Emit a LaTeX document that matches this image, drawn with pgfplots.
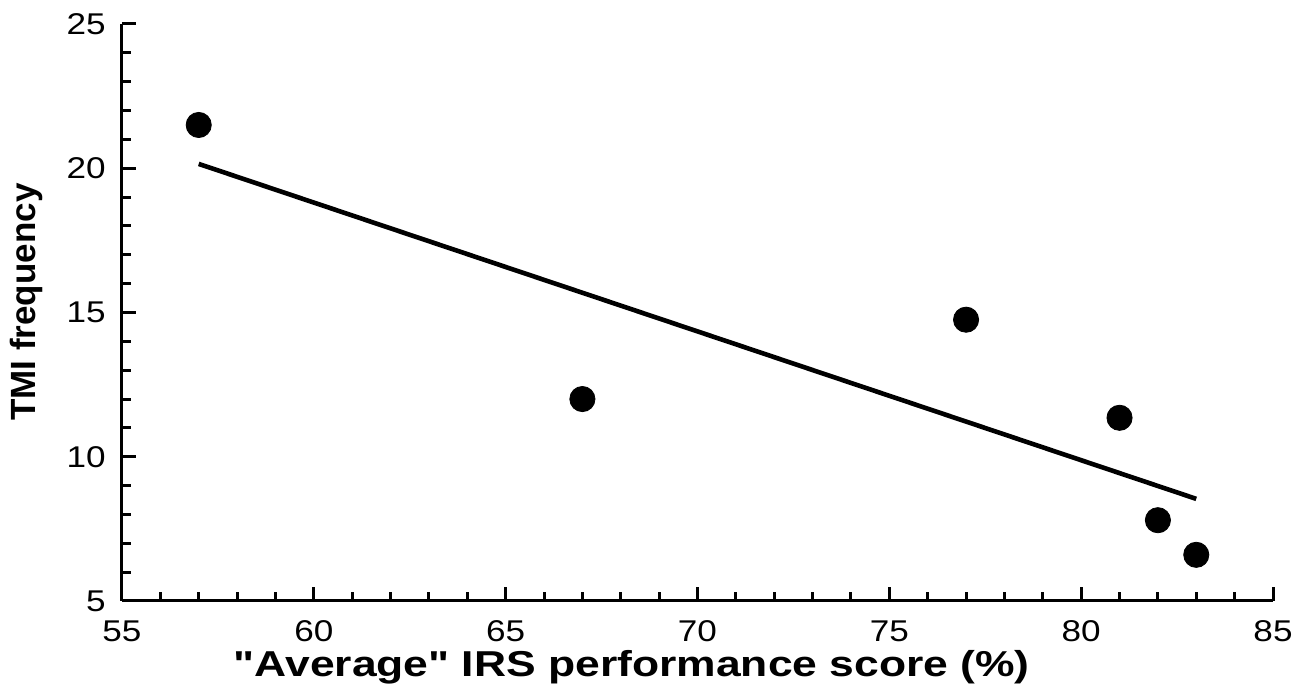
\documentclass[border=0pt]{standalone}
\usepackage{graphicx}
\usepackage{pgfplots}
\pgfplotsset{compat=1.18}
\usepackage{fontspec}
\setmainfont{Liberation Sans}
\newfontfamily\qfont{Liberation Sans}
\begin{document}
\begin{tikzpicture}
\begin{axis}[
  name=a,
  width=575.5pt, height=288.5pt, scale only axis,
  xmin=55, xmax=85, ymin=5, ymax=25,
  axis x line=bottom, axis y line=left,
  axis line style={-, line width=1.5pt},
  every tick/.style={black, line width=1.5pt},
  tick align=inside,
  major tick length=7pt, minor tick length=4.5pt,
  xtick={55,60,...,85}, ytick={5,10,...,25},
  minor tick num=4,
  /pgf/number format/assume math mode=true,
  tick label style={font=\fontsize{15}{17}\selectfont, inner sep=0pt},
  xticklabel={\scalebox{1.17}[1]{\pgfmathprintnumber{\tick}}},
  yticklabel={\scalebox{1.17}[1]{\pgfmathprintnumber{\tick}}},
  xticklabel style={anchor=base, yshift=-20.5pt},
  yticklabel style={anchor=east, xshift=-8pt},
  xlabel={\resizebox{398pt}{\height}{\qfont\bfseries "Average" IRS performance score (\%)}},
  ylabel={TMI frequency},
  xlabel style={font=\fontsize{18}{20}\selectfont\bfseries, at={(axis description cs:0.443,-0.1317)}, anchor=base, inner sep=0pt},
  ylabel style={font=\fontsize{17.5}{20}\selectfont\bfseries, at={(axis description cs:-0.083,0.518)}, anchor=center, inner sep=0pt},
  clip=false,
]
\addplot[only marks, mark=*, mark size=6.3pt, black] coordinates {
  (57,21.5) (67,12.0) (77,14.75) (81,11.35) (82,7.8) (83,6.6)
};
\addplot[black, line width=2.3pt] coordinates {
  (57,20.15) (83,8.54)
};
\end{axis}
\pgfresetboundingbox
\path ([xshift=-61pt,yshift=-44pt]a.south west) rectangle ([xshift=16pt,yshift=12pt]a.north east);
\end{tikzpicture}
\end{document}
